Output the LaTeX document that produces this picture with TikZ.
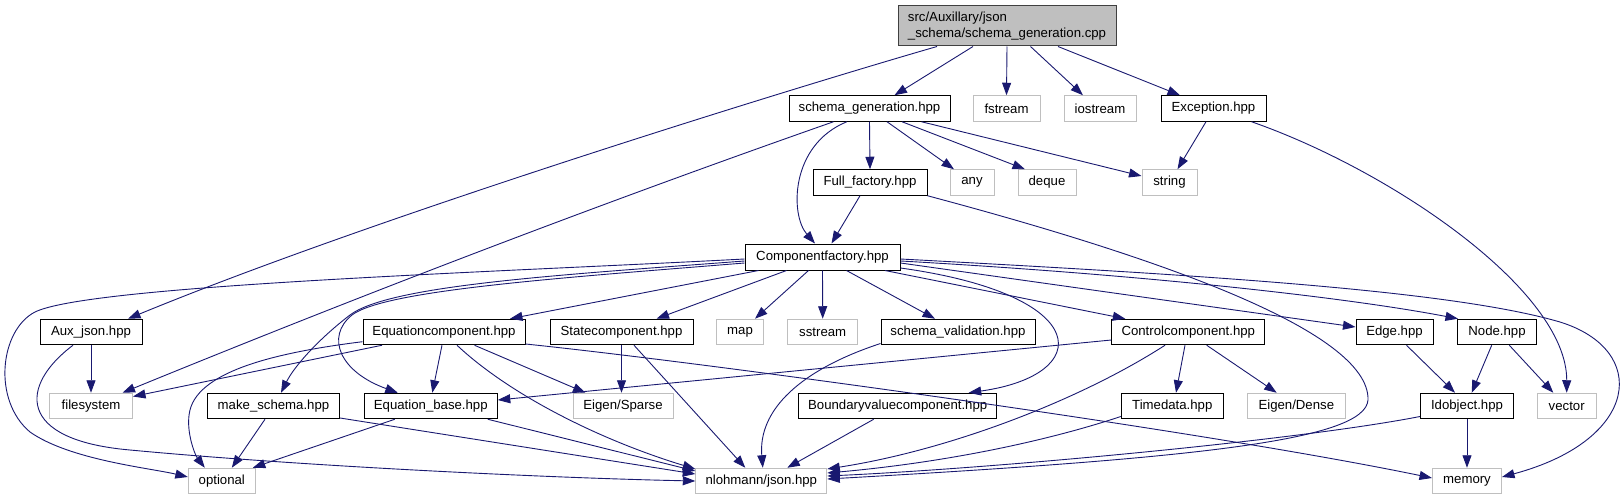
\documentclass[tikz,border=0pt]{standalone}
\usepackage{fontspec}
\setmainfont{Liberation Sans}
\usetikzlibrary{arrows.meta}
\definecolor{edgec}{HTML}{191970}
\definecolor{greyb}{HTML}{BFBFBF}
\definecolor{rootf}{HTML}{BFBFBF}
\definecolor{rootb}{HTML}{404040}
\begin{document}
\begin{tikzpicture}[x=1pt,y=-1pt,
  file/.style={draw=black, line width=1pt, fill=white, inner sep=0pt, minimum height=25.5pt, font=\fontsize{13.2}{16}\selectfont},
  ext/.style={file, draw=greyb},
  rootbox/.style={file, draw=rootb, fill=rootf, minimum height=40pt, align=left},
  dep/.style={draw=edgec, line width=0.9pt, -{Triangle[length=12.5pt,width=9pt]}}]
\useasboundingbox (0,0) rectangle (1623,500);
% row 1
\node[rootbox, minimum width=218pt] (root) at (1007,26) {src/Auxillary/json\\\_schema/schema\_generation.cpp};
% row 2
\node[file, minimum width=161pt] (sg) at (869.5,108.5) {schema\_generation.hpp};
\node[ext, minimum width=67pt] (fstream) at (1006.5,108.5) {fstream};
\node[ext, minimum width=72pt] (iostream) at (1100,108.5) {iostream};
\node[file, minimum width=105pt] (exc) at (1213.5,108.5) {Exception.hpp};
% row 3
\node[file, minimum width=114pt] (ff) at (870,182.5) {Full\_factory.hpp};
\node[ext, minimum width=44pt] (any) at (972,182.5) {any};
\node[ext, minimum width=58pt] (deque) at (1047,182.5) {deque};
\node[ext, minimum width=55pt] (string) at (1169.5,182.5) {string};
% row 4
\node[file, minimum width=155pt, minimum height=26pt] (cf) at (822.5,257) {Componentfactory.hpp};
% row 5
\node[file, minimum width=102pt] (aux) at (91,332) {Aux\_json.hpp};
\node[file, minimum width=162pt] (ec) at (444,332) {Equationcomponent.hpp};
\node[file, minimum width=143pt] (stc) at (621.5,332) {Statecomponent.hpp};
\node[ext, minimum width=47pt] (map) at (740,332) {map};
\node[ext, minimum width=70pt] (sstream) at (822.7,332) {sstream};
\node[file, minimum width=154pt] (sv) at (958,332) {schema\_validation.hpp};
\node[file, minimum width=153pt] (ctc) at (1188.3,332) {Controlcomponent.hpp};
\node[file, minimum width=77pt] (edgeh) at (1394.5,332) {Edge.hpp};
\node[file, minimum width=79pt] (nodeh) at (1497,332) {Node.hpp};
% row 6
\node[ext, minimum width=83pt] (fs) at (91,406) {filesystem};
\node[file, minimum width=132pt] (ms) at (273.5,406) {make\_schema.hpp};
\node[file, minimum width=133pt] (eb) at (430.8,406) {Equation\_base.hpp};
\node[ext, minimum width=100pt] (sparse) at (623,406) {Eigen/Sparse};
\node[file, minimum width=198pt] (bvc) at (897.7,406) {Boundaryvaluecomponent.hpp};
\node[file, minimum width=102pt] (timedata) at (1172.3,406) {Timedata.hpp};
\node[ext, minimum width=98pt] (dense) at (1296.3,406) {Eigen/Dense};
\node[file, minimum width=93pt] (idobj) at (1467,406) {Idobject.hpp};
\node[ext, minimum width=59pt] (vector) at (1566.7,406) {vector};
% row 7
\node[ext, minimum width=67pt] (optional) at (221.8,481) {optional};
\node[ext, minimum width=131pt] (nl) at (761.3,481) {nlohmann/json.hpp};
\node[ext, minimum width=69pt] (memory) at (1467,481) {memory};

% root edges
\draw[dep] ([xshift=-70]root.south) .. controls (800,86) and (380,215) .. ([xshift=37]aux.north);
\draw[dep] ([xshift=-34]root.south) -- ([xshift=25]sg.north);
\draw[dep] (root.south) -- (fstream.north);
\draw[dep] ([xshift=23.5]root.south) -- ([xshift=-17]iostream.north);
\draw[dep] ([xshift=51]root.south) -- ([xshift=-33.5]exc.north);
% schema_generation edges
\draw[dep] ([xshift=-36]sg.south) .. controls (596,205) and (359,296) .. ([xshift=31.5]fs.north);
\draw[dep] ([xshift=-22.7]sg.south) .. controls (790,145) and (790,215) .. ([xshift=-7.5]cf.north);
\draw[dep] (sg.south) -- (ff.north);
\draw[dep] ([xshift=17.5]sg.south) -- ([xshift=-18]any.north);
\draw[dep] ([xshift=32.5]sg.south) -- ([xshift=-22]deque.north);
\draw[dep] ([xshift=52]sg.south) -- ([yshift=6.5]string.west);
% Exception edges
\draw[dep] ([xshift=-7.5]exc.south) -- ([xshift=8]string.north);
\draw[dep] ([xshift=38]exc.south) .. controls (1390,170) and (1567,290) .. (vector.north);
% Full_factory edges
\draw[dep] ([xshift=-10]ff.south) -- ([xshift=9]cf.north);
\draw[dep] (ff.south east) .. controls (1150,255) and (1370,330) .. (1368,400) .. controls (1365,440) and (1200,458) .. ([yshift=2]nl.east);
% Componentfactory edges
\draw[dep] ([yshift=-2]cf.west) .. controls (500,272) and (90,285) .. (35,312) .. controls (0,330) and (-8,400) .. (30,432) .. controls (70,460) and (150,468) .. ([yshift=4]optional.west);
\draw[dep] ([yshift=-4]cf.west) .. controls (560,275) and (390,285) .. (350,315) .. controls (320,338) and (295,365) .. ([xshift=7.5]ms.north);
\draw[dep] ([yshift=-6]cf.west) .. controls (560,278) and (385,290) .. (352,315) .. controls (325,337) and (340,372) .. ([xshift=-33]eb.north);
\draw[dep] ([xshift=-64]cf.south) -- ([xshift=66]ec.north);
\draw[dep] ([xshift=-36]cf.south) -- ([xshift=35]stc.north);
\draw[dep] ([xshift=-14]cf.south) -- ([xshift=15]map.north);
\draw[dep] (cf.south) -- (sstream.north);
\draw[dep] ([xshift=24]cf.south) -- ([xshift=-23]sv.north);
\draw[dep] ([yshift=-11]cf.east) .. controls (1095,295) and (1095,375) .. ([xshift=71]bvc.north);
\draw[dep] ([xshift=62.5]cf.south) -- ([xshift=-63]ctc.north);
\draw[dep] ([yshift=-6]cf.east) -- ([yshift=5]edgeh.west);
\draw[dep] ([yshift=-4]cf.east) .. controls (1150,275) and (1350,298) .. ([xshift=-39]nodeh.north);
\draw[dep] ([yshift=-2]cf.east) .. controls (1200,275) and (1450,290) .. (1560,322) .. controls (1650,350) and (1640,440) .. ([yshift=4]memory.east);
% Aux_json edges
\draw[dep] (aux.south) -- (fs.north);
\draw[dep] ([xshift=-18]aux.south) .. controls (20,385) and (15,440) .. (130,450) .. controls (300,466) and (550,478) .. (nl.west);
% Equationcomponent edges
\draw[dep] ([xshift=-62]ec.south) -- ([yshift=9.5]fs.east);
\draw[dep] ([yshift=-9.7]ec.west) .. controls (280,352) and (200,370) .. (190,410) .. controls (185,430) and (195,455) .. ([xshift=-17]optional.north);
\draw[dep] ([xshift=-2]ec.south) -- ([xshift=1.5]eb.north);
\draw[dep] ([xshift=30.5]ec.south) -- ([xshift=-37.5]sparse.north);
\draw[dep] ([xshift=13]ec.south) .. controls (510,395) and (600,440) .. ([yshift=12]nl.west);
\draw[dep] ([yshift=-12]ec.east) .. controls (700,362) and (1200,430) .. ([yshift=3]memory.west);
% Statecomponent edges
\draw[dep] (stc.south) -- (stc.south |- sparse.north);
\draw[dep] ([xshift=12.5]stc.south) -- ([xshift=-16]nl.north);
% make_schema edges
\draw[dep] ([xshift=-8.5]ms.south) -- ([xshift=10]optional.north);
\draw[dep] ([yshift=-12]ms.east) -- ([yshift=7]nl.west);
% Equation_base edges
\draw[dep] ([xshift=-36]eb.south) -- ([xshift=-3]optional.north east);
\draw[dep] ([xshift=57]eb.south) -- ([yshift=10]nl.west);
% schema_validation, Boundaryvaluecomponent
\draw[dep] ([yshift=-11.5]sv.west) .. controls (800,370) and (758,410) .. ([xshift=1.5]nl.north);
\draw[dep] ([xshift=-24]bvc.south) -- ([xshift=26]nl.north);
% Controlcomponent edges
\draw[dep] ([yshift=-8]ctc.west) -- ([yshift=6]eb.east);
\draw[dep] ([xshift=-3.3]ctc.south) -- ([xshift=3.7]timedata.north);
\draw[dep] ([xshift=18.4]ctc.south) -- ([xshift=-19.6]dense.north);
\draw[dep] ([xshift=-23.3]ctc.south) .. controls (1080,400) and (950,450) .. ([yshift=12]nl.east);
% Timedata
\draw[dep] ([yshift=-10.5]timedata.west) .. controls (1050,440) and (950,462) .. ([yshift=8]nl.east);
% Edge, Node, Idobject
\draw[dep] ([xshift=12]edgeh.south) -- ([xshift=-12]idobj.north);
\draw[dep] ([xshift=-5.3]nodeh.south) -- ([xshift=4.7]idobj.north);
\draw[dep] ([xshift=12.3]nodeh.south) -- ([xshift=-13.4]vector.north);
\draw[dep] (idobj.south) -- (memory.north);
\draw[dep] ([yshift=-10.5]idobj.west) .. controls (1300,440) and (1000,468) .. ([yshift=5]nl.east);
\end{tikzpicture}
\end{document}
